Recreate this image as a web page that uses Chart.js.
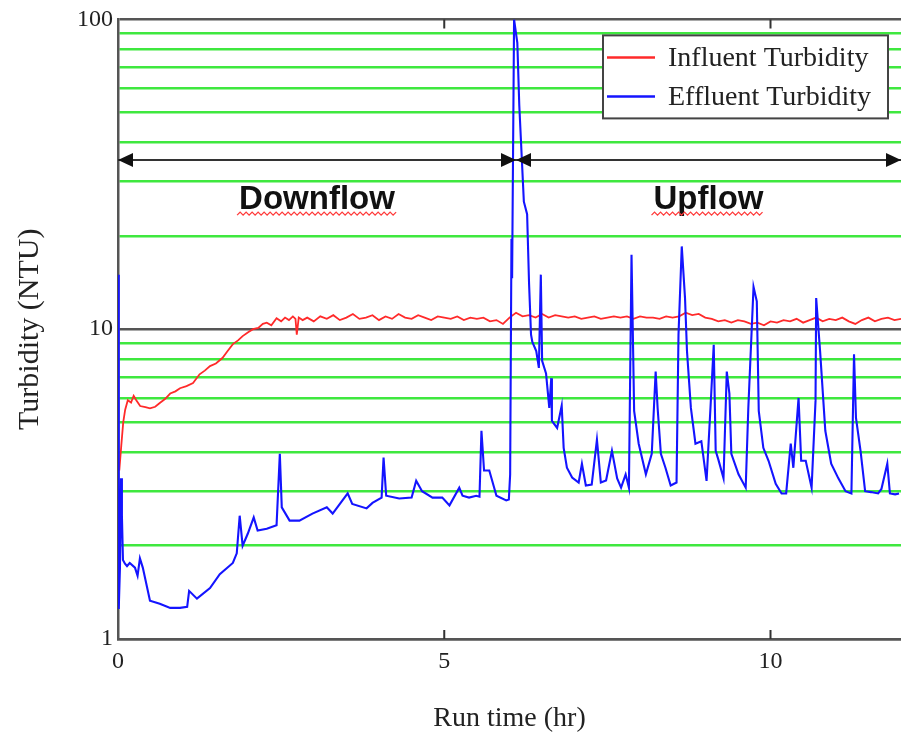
<!DOCTYPE html>
<html lang="en">
<head>
<meta charset="UTF-8" />
<title>Influent and Effluent Turbidity</title>
<script src="https://cdn.jsdelivr.net/npm/chart.js"></script>
<style>
  body { margin: 0; background: #fff; }
  #wrap { width: 901px; height: 740px; }
</style>
</head>
<body>
<div id="wrap"><canvas id="turbChart" width="901" height="740"></canvas></div>
<script>
// run time (hr) and turbidity (NTU)
const influentTime = [
  0.02, 0.05, 0.08, 0.11, 0.15, 0.2, 0.24, 0.28, 0.34, 0.42,
  0.49, 0.57, 0.64, 0.72, 0.8, 0.88, 0.95, 1.05, 1.15, 1.25,
  1.33, 1.41, 1.5, 1.6, 1.68, 1.76, 1.84, 1.91, 2.0, 2.07,
  2.15, 2.22, 2.28, 2.35, 2.43, 2.5, 2.56, 2.62, 2.68, 2.72,
  2.74, 2.77, 2.83,
  2.9, 3.0, 3.1, 3.2, 3.3, 3.4, 3.5, 3.6, 3.7, 3.8, 3.9,
  4.0, 4.1, 4.2, 4.3, 4.4, 4.5, 4.6, 4.7, 4.8, 4.9,
  5.0, 5.1, 5.2, 5.3, 5.4, 5.5, 5.6, 5.7, 5.8, 5.9,
  6.0, 6.1, 6.2, 6.3, 6.4, 6.5, 6.6, 6.7, 6.8, 6.9,
  7.0, 7.1, 7.2, 7.3, 7.4, 7.5, 7.6, 7.7, 7.8, 7.9,
  8.0, 8.1, 8.2, 8.3, 8.4, 8.5, 8.6, 8.7, 8.8, 8.9,
  9.0, 9.1, 9.2, 9.3, 9.4, 9.5, 9.6, 9.7, 9.8, 9.9,
  10.0, 10.1, 10.2, 10.3, 10.4, 10.5, 10.6, 10.7, 10.8, 10.9,
  11.0, 11.1, 11.2, 11.3, 11.4, 11.5, 11.6, 11.7, 11.8, 11.9,
  12.0
];
const influentNtu = [
  3.5, 4.2, 5.0, 5.5, 5.9, 5.8, 6.1, 5.9, 5.65, 5.6,
  5.55, 5.62, 5.78, 5.95, 6.2, 6.3, 6.45, 6.55, 6.7, 7.15,
  7.35, 7.6, 7.75, 8.07, 8.5, 8.95, 9.2, 9.5, 9.8, 10.0,
  10.1, 10.4, 10.5, 10.3, 10.85, 10.6, 10.9, 10.7, 11.0, 10.8,
  9.6, 10.9, 10.7,
  10.9, 10.6, 11.0, 10.8, 11.1, 10.7, 10.9, 11.2, 10.8, 10.9, 11.1,
  10.7, 11.0, 10.8, 11.2, 10.9, 10.8, 11.1, 10.9, 10.7, 11.0,
  10.9, 10.8, 11.0, 10.7, 10.9, 10.8, 10.9, 10.6, 10.7, 10.4,
  10.9, 11.3, 11.0, 11.1, 10.9, 11.2, 10.9, 11.1, 11.0, 10.9,
  11.0, 10.8, 10.9, 11.0, 10.8, 10.9, 11.0, 10.9, 11.0, 10.8,
  11.0, 10.9, 10.9, 10.8, 11.0, 10.9, 11.0, 11.3, 11.1, 11.2,
  10.9, 10.8, 10.6, 10.7, 10.5, 10.7, 10.6, 10.4, 10.5, 10.3,
  10.6, 10.5, 10.7, 10.6, 10.8, 10.5, 10.7, 10.9, 10.6, 10.8,
  10.7, 10.9, 10.6, 10.4, 10.7, 10.9, 10.6, 10.8, 10.9, 10.7,
  10.8
];

const effluentTime = [
  0, 0.008, 0.015, 0.03, 0.046, 0.06, 0.076, 0.107, 0.138, 0.18,
  0.26, 0.3, 0.336, 0.38, 0.49, 0.64, 0.8, 0.95, 1.06, 1.09,
  1.21, 1.41, 1.56, 1.76, 1.82, 1.865, 1.91, 1.99, 2.08, 2.14,
  2.28, 2.43, 2.48, 2.51, 2.63, 2.78, 2.98, 3.2, 3.29, 3.52,
  3.59, 3.81, 3.9, 4.04, 4.07, 4.11, 4.31, 4.5, 4.57, 4.66,
  4.82, 4.97, 5.08, 5.23, 5.28, 5.38, 5.49, 5.54, 5.57, 5.61,
  5.69, 5.8, 5.95, 5.99, 6.01, 6.03, 6.04, 6.07, 6.12, 6.15,
  6.22, 6.27, 6.3, 6.33, 6.35, 6.41, 6.45, 6.48, 6.5, 6.56,
  6.61, 6.64, 6.65, 6.73, 6.8, 6.83, 6.88, 6.96, 7.06, 7.11,
  7.17, 7.26, 7.34, 7.4, 7.48, 7.57, 7.65, 7.71, 7.78, 7.83,
  7.87, 7.91, 7.98, 8.09, 8.18, 8.24, 8.27, 8.32, 8.39, 8.47,
  8.56, 8.59, 8.64, 8.69, 8.72, 8.78, 8.85, 8.94, 9.02, 9.08,
  9.13, 9.16, 9.2, 9.28, 9.33, 9.37, 9.4, 9.51, 9.62, 9.66,
  9.74, 9.79, 9.82, 9.89, 9.97, 10.08, 10.17, 10.24, 10.31, 10.35,
  10.43, 10.47, 10.54, 10.63, 10.69, 10.7, 10.76, 10.84, 10.93, 11.04,
  11.15, 11.24, 11.28, 11.31, 11.38, 11.45, 11.54, 11.65, 11.7, 11.79,
  11.83, 11.91, 11.97
];
const effluentNtu = [
  15, 4, 1.25, 1.7, 3.3, 2.5, 1.8, 1.75, 1.72, 1.76,
  1.7, 1.6, 1.82, 1.7, 1.33, 1.3, 1.26, 1.26, 1.27, 1.43,
  1.35, 1.46, 1.62, 1.76, 1.89, 2.5, 2.0, 2.19, 2.47, 2.24,
  2.27, 2.33, 3.96, 2.66, 2.41, 2.41, 2.54, 2.66, 2.54, 2.95,
  2.73, 2.64, 2.75, 2.86, 3.85, 2.9, 2.84, 2.86, 3.24, 3.0,
  2.86, 2.86, 2.7, 3.08, 2.9, 2.86, 2.9, 2.88, 4.7, 3.5,
  3.5, 2.9, 2.8, 2.82, 3.4, 19.6, 14.6, 100, 84, 52.7,
  25.8, 23.5, 14, 9.6, 9.1, 8.5, 7.5, 15, 7.9, 7.2,
  5.57, 6.95, 5.06, 4.8, 5.66, 4.14, 3.57, 3.32, 3.2, 3.68,
  3.13, 3.15, 4.4, 3.2, 3.25, 4.05, 3.3, 3.08, 3.4, 3.08,
  17.4, 5.45, 4.27, 3.4, 3.96, 7.3, 5.57, 3.96, 3.57, 3.13,
  3.2, 9.6, 18.5, 12.6, 8.5, 5.57, 4.27, 4.35, 3.24, 5.57,
  8.9, 4.05, 3.8, 3.3, 7.3, 6.2, 3.96, 3.4, 3.08, 5.57,
  13.7, 12.3, 5.45, 4.14, 3.76, 3.17, 2.95, 2.95, 4.27, 3.57,
  6.0, 3.76, 3.76, 3.08, 5.87, 12.6, 8.5, 4.7, 3.68, 3.3,
  3.0, 2.95, 8.3, 5.17, 4.05, 3.0, 2.98, 2.95, 3.05, 3.68,
  2.95, 2.93, 2.95
];

const xTickValues = [0, 5, 10];
const yGridValues = [1, 2, 3, 4, 5, 6, 7, 8, 9, 10, 20, 30, 40, 50, 60, 70, 80, 90, 100];
const yLabelValues = [1, 10, 100];

const phaseLabels = ['Downflow', 'Upflow'];
const phaseStart = [0, 6.1];
const phaseEnd = [6.1, 12];

const serif = 'Liberation Serif, Times New Roman, serif';

// arrows, phase names, inward ticks and the boxed legend
const notesPlugin = {
  id: 'notes',
  afterDatasetsDraw(chart) {
    const { ctx, chartArea, scales: { x, y } } = chart;
    ctx.save();

    ctx.strokeStyle = '#333';
    ctx.lineWidth = 2;
    xTickValues.slice(1).forEach(v => {
      const px = x.getPixelForValue(v);
      ctx.beginPath();
      ctx.moveTo(px, chartArea.bottom);
      ctx.lineTo(px, chartArea.bottom - 9);
      ctx.moveTo(px, chartArea.top);
      ctx.lineTo(px, chartArea.top + 9);
      ctx.stroke();
    });

    const ay = y.getPixelForValue(35.2);
    const ty = y.getPixelForValue(24.5);
    const head = (tipX, dir) => {
      ctx.beginPath();
      ctx.moveTo(tipX, ay);
      ctx.lineTo(tipX + dir * 15, ay - 7);
      ctx.lineTo(tipX + dir * 15, ay + 7);
      ctx.closePath();
      ctx.fill();
    };
    phaseLabels.forEach((label, i) => {
      const x0 = x.getPixelForValue(phaseStart[i]);
      const x1 = x.getPixelForValue(phaseEnd[i]);
      ctx.strokeStyle = '#333';
      ctx.fillStyle = '#111';
      ctx.lineWidth = 2;
      ctx.beginPath();
      ctx.moveTo(x0, ay);
      ctx.lineTo(x1, ay);
      ctx.stroke();
      head(x0, 1);
      head(x1, -1);

      ctx.font = 'bold 33px Liberation Sans, Arial, sans-serif';
      ctx.textAlign = 'center';
      ctx.textBaseline = 'alphabetic';
      const cx = (x0 + x1) / 2;
      ctx.fillText(label, cx, ty);
      // red spell-check squiggle under the word
      const w = ctx.measureText(label).width;
      ctx.strokeStyle = '#ff3b3b';
      ctx.lineWidth = 1.3;
      ctx.beginPath();
      let k = 0;
      for (let px = cx - w / 2 - 2; px <= cx + w / 2 + 2; px += 3) {
        const py = ty + 5 + (k % 2 ? -1.5 : 1.5);
        if (k === 0) ctx.moveTo(px, py); else ctx.lineTo(px, py);
        k++;
      }
      ctx.stroke();
    });

    // legend box
    const lx = chartArea.right - 298, ly = chartArea.top + 16, lw = 285, lh = 83;
    ctx.fillStyle = '#fff';
    ctx.fillRect(lx, ly, lw, lh);
    ctx.strokeStyle = '#444';
    ctx.lineWidth = 2;
    ctx.strokeRect(lx, ly, lw, lh);
    ctx.font = '28px ' + serif;
    ctx.textAlign = 'left';
    ctx.textBaseline = 'middle';
    chart.data.datasets.forEach((ds, i) => {
      const rowY = ly + 22 + i * 39;
      ctx.strokeStyle = ds.borderColor;
      ctx.lineWidth = 2.5;
      ctx.beginPath();
      ctx.moveTo(lx + 4, rowY);
      ctx.lineTo(lx + 52, rowY);
      ctx.stroke();
      ctx.fillStyle = '#222';
      ctx.fillText(ds.label, lx + 65, rowY + 1);
    });
    ctx.restore();
  }
};

new Chart(document.getElementById('turbChart'), {
  type: 'line',
  data: {
    datasets: [
      {
        label: 'Influent Turbidity',
        data: influentTime.map((t, i) => ({ x: t, y: influentNtu[i] })),
        borderColor: '#ff2a2a',
        borderWidth: 1.8,
        pointRadius: 0,
        order: 2
      },
      {
        label: 'Effluent Turbidity',
        data: effluentTime.map((t, i) => ({ x: t, y: effluentNtu[i] })),
        borderColor: '#1414ff',
        borderWidth: 2.1,
        pointRadius: 0,
        order: 1
      }
    ]
  },
  options: {
    responsive: false,
    animation: false,
    devicePixelRatio: 1,
    layout: { padding: { top: 19, right: 0, left: 0, bottom: 0 } },
    plugins: { legend: { display: false }, tooltip: { enabled: false } },
    scales: {
      x: {
        type: 'linear',
        min: 0,
        max: 12,
        afterBuildTicks: s => { s.ticks = xTickValues.map(v => ({ value: v })); },
        afterFit: s => { s.height = 101; },
        grid: { display: false, drawTicks: false },
        border: { display: true, color: '#555', width: 2.5 },
        ticks: { padding: 8, color: '#222', font: { family: serif, size: 24 } },
        title: {
          display: true,
          text: 'Run time (hr)',
          color: '#222',
          font: { family: serif, size: 28 },
          padding: { top: 0, bottom: 5 }
        }
      },
      y: {
        type: 'logarithmic',
        min: 1,
        max: 100,
        afterBuildTicks: s => { s.ticks = yGridValues.map(v => ({ value: v })); },
        afterFit: s => { s.width = 118; },
        grid: {
          drawTicks: false,
          color: c => yLabelValues.includes(c.tick.value) ? '#555' : '#3fe83f',
          lineWidth: 2.5
        },
        border: { display: true, color: '#555', width: 2.5 },
        ticks: {
          autoSkip: false,
          padding: 5,
          color: '#222',
          font: { family: serif, size: 24 },
          callback: v => yLabelValues.includes(v) ? String(v) : ''
        },
        title: {
          display: true,
          text: 'Turbidity (NTU)',
          color: '#222',
          font: { family: serif, size: 30 },
          padding: { top: 12, bottom: 0 }
        }
      }
    }
  },
  plugins: [notesPlugin]
});
</script>
</body>
</html>
